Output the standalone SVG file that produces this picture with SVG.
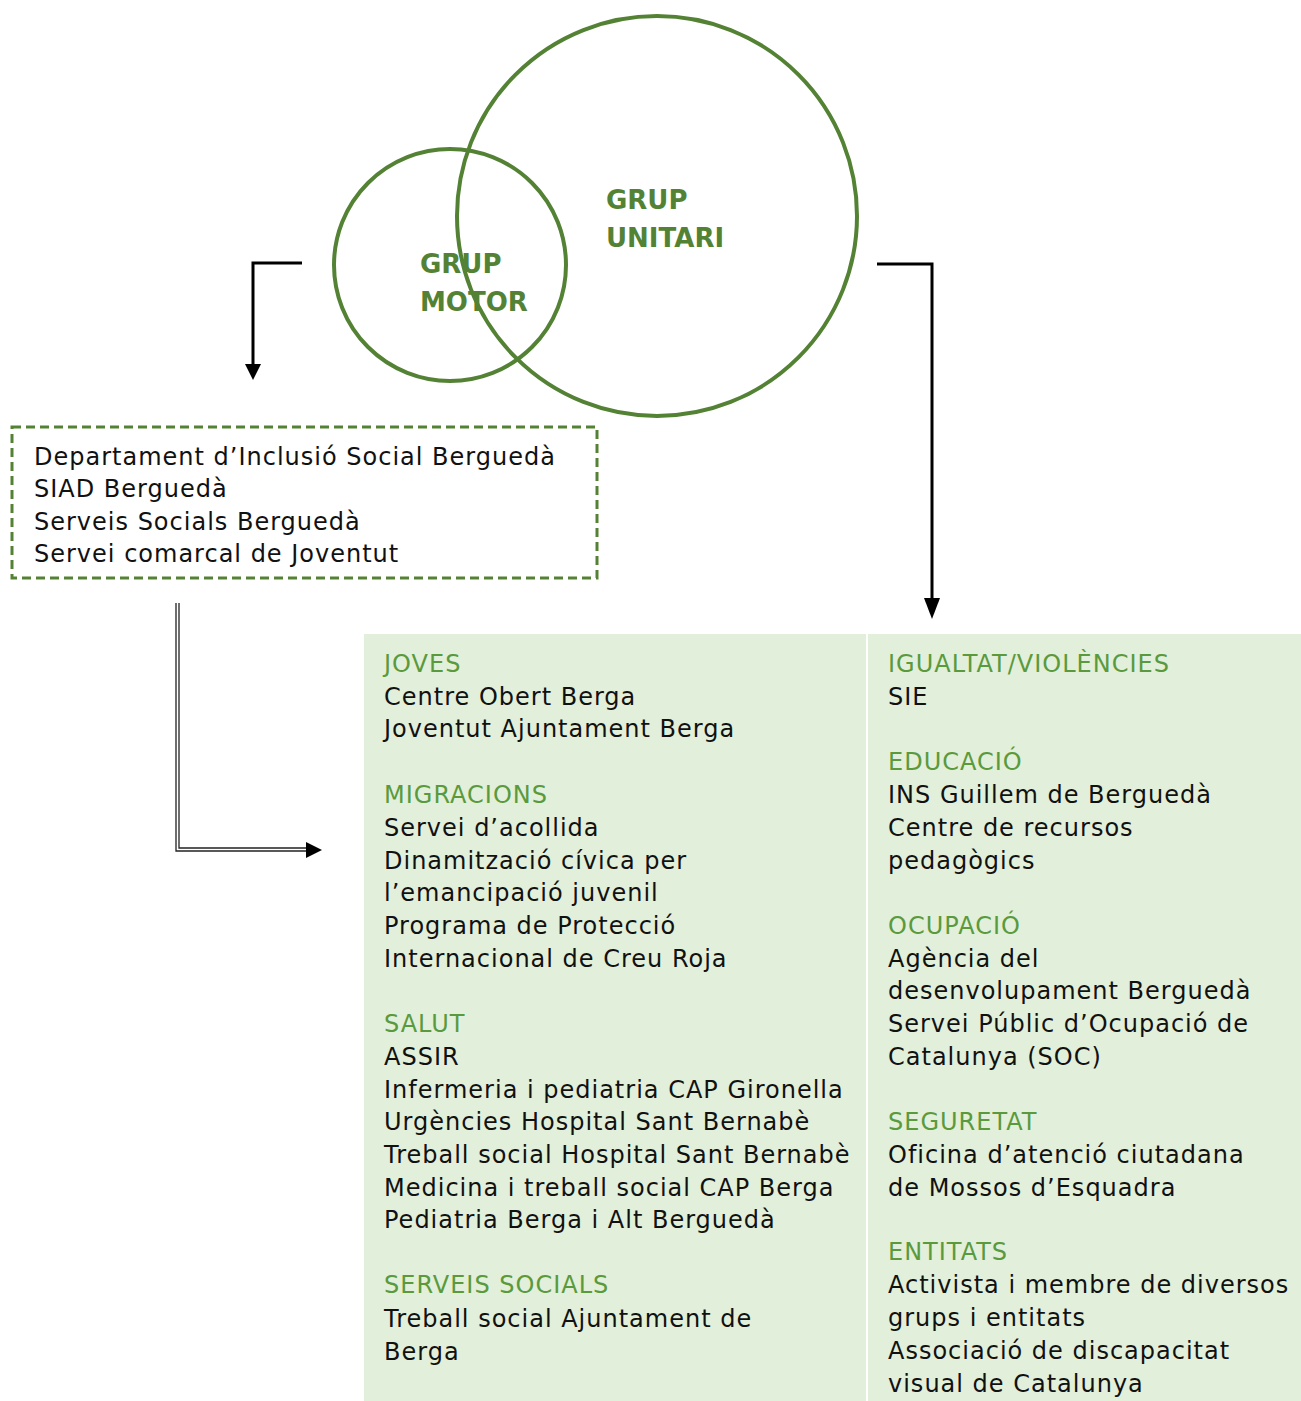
<svg xmlns="http://www.w3.org/2000/svg" width="1301" height="1401" viewBox="0 0 1301 1401">
<style>
.circ{fill:none;stroke:#548235;stroke-width:4}
.ctext{font-family:"DejaVu Sans",sans-serif;font-weight:bold;font-size:26px;fill:#548235}
.t{font-family:"DejaVu Sans",sans-serif;font-size:24px;letter-spacing:1px;fill:#111}
.h{fill:#5a9a3c}
.conn{fill:none;stroke:#000;stroke-width:3}
.dbl{fill:none;stroke:#222;stroke-width:1.3}
.head{fill:#000}
</style>
<rect x="0" y="0" width="1301" height="1401" fill="#fff"/>
<g id="panel">
<rect x="364" y="634" width="937" height="767" fill="#e2efda"/>
<line x1="867" y1="634" x2="867" y2="1401" stroke="#fff" stroke-width="2"/>
</g>
<g id="grup-unitari">
<circle class="circ" cx="657" cy="216" r="200"/>
<text class="ctext" x="606" y="209">GRUP</text>
<text class="ctext" x="606" y="247">UNITARI</text>
</g>
<g id="grup-motor">
<circle class="circ" cx="450" cy="265" r="116"/>
<text class="ctext" x="420" y="273">GRUP</text>
<text class="ctext" x="420" y="311">MOTOR</text>
</g>
<g id="motor-box">
<rect x="12" y="427" width="585" height="151" fill="none" stroke="#548235" stroke-width="3" stroke-dasharray="9,5"/>
<text class="t" x="34" y="465">Departament d’Inclusió Social Berguedà</text>
<text class="t" x="34" y="497">SIAD Berguedà</text>
<text class="t" x="34" y="530">Serveis Socials Berguedà</text>
<text class="t" x="34" y="562">Servei comarcal de Joventut</text>
</g>
<g id="col-left">
<text class="t h" x="384" y="672">JOVES</text>
<text class="t" x="384" y="705">Centre Obert Berga</text>
<text class="t" x="384" y="737">Joventut Ajuntament Berga</text>
<text class="t h" x="384" y="803">MIGRACIONS</text>
<text class="t" x="384" y="836">Servei d’acollida</text>
<text class="t" x="384" y="869">Dinamització cívica per</text>
<text class="t" x="384" y="901">l’emancipació juvenil</text>
<text class="t" x="384" y="934">Programa de Protecció</text>
<text class="t" x="384" y="967">Internacional de Creu Roja</text>
<text class="t h" x="384" y="1032">SALUT</text>
<text class="t" x="384" y="1065">ASSIR</text>
<text class="t" x="384" y="1098">Infermeria i pediatria CAP Gironella</text>
<text class="t" x="384" y="1130">Urgències Hospital Sant Bernabè</text>
<text class="t" x="384" y="1163">Treball social Hospital Sant Bernabè</text>
<text class="t" x="384" y="1196">Medicina i treball social CAP Berga</text>
<text class="t" x="384" y="1228">Pediatria Berga i Alt Berguedà</text>
<text class="t h" x="384" y="1293">SERVEIS SOCIALS</text>
<text class="t" x="384" y="1327">Treball social Ajuntament de</text>
<text class="t" x="384" y="1360">Berga</text>
</g>
<g id="col-right">
<text class="t h" x="888" y="672">IGUALTAT/VIOLÈNCIES</text>
<text class="t" x="888" y="705">SIE</text>
<text class="t h" x="888" y="770">EDUCACIÓ</text>
<text class="t" x="888" y="803">INS Guillem de Berguedà</text>
<text class="t" x="888" y="836">Centre de recursos</text>
<text class="t" x="888" y="869">pedagògics</text>
<text class="t h" x="888" y="934">OCUPACIÓ</text>
<text class="t" x="888" y="967">Agència del</text>
<text class="t" x="888" y="999">desenvolupament Berguedà</text>
<text class="t" x="888" y="1032">Servei Públic d’Ocupació de</text>
<text class="t" x="888" y="1065">Catalunya (SOC)</text>
<text class="t h" x="888" y="1130">SEGURETAT</text>
<text class="t" x="888" y="1163">Oficina d’atenció ciutadana</text>
<text class="t" x="888" y="1196">de Mossos d’Esquadra</text>
<text class="t h" x="888" y="1260">ENTITATS</text>
<text class="t" x="888" y="1293">Activista i membre de diversos</text>
<text class="t" x="888" y="1326">grups i entitats</text>
<text class="t" x="888" y="1359">Associació de discapacitat</text>
<text class="t" x="888" y="1392">visual de Catalunya</text>
</g>
<g id="connectors">
<path class="conn" d="M302,263 H253 V366"/>
<path class="head" d="M245,364 L261,364 L253,380 z"/>
<path class="conn" d="M877,264 H932 V600"/>
<path class="head" d="M924,598 L940,598 L932,619 z"/>
<path class="dbl" d="M176,603 V851 H308"/>
<path class="dbl" d="M179,603 V848 H308"/>
<path class="head" d="M306,842 L322,850 L306,858 z"/>
</g>
</svg>
